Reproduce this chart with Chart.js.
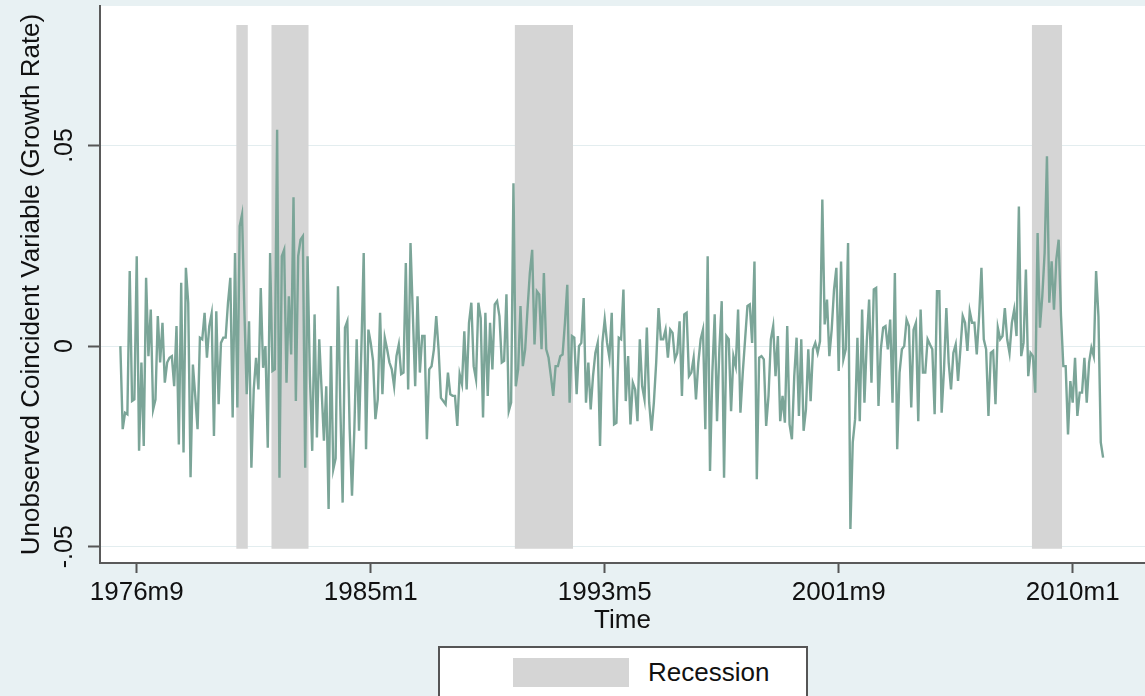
<!DOCTYPE html>
<html>
<head>
<meta charset="utf-8">
<title>Unobserved Coincident Variable (Growth Rate)</title>
<script src="https://cdn.jsdelivr.net/npm/chart.js@4.4.1/dist/chart.umd.min.js"></script>
<style>
  html, body { margin: 0; padding: 0; }
  body {
    width: 1145px; height: 696px; overflow: hidden; position: relative;
    background: #e8f1f3;
    font-family: 'Liberation Sans', Arial, Helvetica, sans-serif;
  }
  #chart { position: absolute; left: 0; top: 0; }
  .legend {
    position: absolute; left: 438px; top: 646px; width: 370px; height: 62px;
    background: #fff; border: 2px solid #555; box-sizing: border-box;
  }
  .legend .swatch { position: absolute; left: 73px; top: 10px; width: 116px; height: 29px; background: #d5d5d5; }
  .legend .label { position: absolute; left: 208px; top: 9px; font-size: 26px; line-height: 30px; color: #111; }
</style>
</head>
<body>
<canvas id="chart" width="1145" height="696"></canvas>
<div class="legend"><div class="swatch"></div><div class="label">Recession</div></div>
<script>
  // Stata monthly dates (%tm): 0 = 1960m1, so 193 = 1976m2
  const startMonth = 193;

  // monthly growth rate of the unobserved coincident variable, 1976m2 .. 2011m2
  const growth = [
    0, -.0207, -.0166, -.017, .0187, -.0137, -.0133, .0224, -.0261, -.0041, -.0249, .017, -.0025, .0091, -.0158, -.0133,
    .0075, -.0041, .0058, -.0091, -.0041, -.0029, -.0025, -.01, .005, -.0245, .0158, -.0265, .0195, .0108, -.0327, -.0046,
    -.0124, -.0207, .0021, .0017, .0083, -.0029, .005,
    .0081, -.0224, .0087, -.0145, .0008, .0021, .0021, .0108, .017, -.0178, .0232, -.0153, .0299, .0328, .0091, -.012,
    .0062, -.0303, -.0108, -.0029, -.0108, .0145, -.0054, 0, -.0253, .0232, -.0062, -.0058, .0539, -.0328, .0224, .024,
    -.0091, .0124, -.0021, .0371, -.0137, .0224, .0265,
    .0274, -.0303, .0224, -.0075, -.0261, .0079, -.0228, .0017, -.0108, -.0236, -.01, -.0406, 0, -.0307, -.028, .0149,
    -.0149, -.039, .0046, .0062, -.0207, -.0373, -.0207, .0017, -.0211, -.0008, .0232, -.0257, .0041, .0008, -.0037, -.0182,
    -.0133, .0083, -.012, .0021, -.0008, -.0041, -.0058, -.01, -.0025, .0004,
    -.007, -.0066, .0207, -.0108, .0257, .0079, -.01, .0124, -.0066, .0025, .0025, -.0232, -.0058, -.005, -.0008, .0075,
    -.0008, -.0129, -.0137, -.0145, -.0066, -.012, -.0124, -.0124, -.0199, -.007, -.0095, .0037, -.0108, .0058, .0108, -.005,
    -.0083, .0108, .007, -.0178, .0083, -.0124, .0058, -.0058, .0104,
    .0112, .0075, -.0041, -.0037, .0129, -.0162, -.0141, .0406, -.01, -.0058, .01, -.005, -.0008, .0091, .0182, .024,
    .0004, .0137, .0129, -.0008, .0182, -.0008, -.0029, -.0075, -.0124, -.005, -.005, -.0025, -.0021, .0058, .0153, -.0141,
    .0025, .0021, -.012, 0, .0008, .012, -.0141, -.0041, -.0158,
    -.0075, -.0017, .0008, -.0249, .0008, .0066, .0008, -.0029, .0083, -.0195, -.0191, .0021, .0017, .0141, -.0137, -.0025,
    -.0195, -.0091, -.0108, -.0187, .0017, -.01, -.0133, .0046, -.0141, -.0211, -.0141, -.0041, .0095, .0017, .0017, .0041,
    -.0029, .0041, .0033, -.0033, -.0017, .0062, -.0124, .0079,
    .0083, -.0075, -.0066, -.0029, -.0133, -.0041, .0017, .0041, -.0207, .0224, -.0311, -.0066, .0079, -.0187, -.0008, .0112,
    -.0328, .0025, .0017, -.0162, -.0025, -.005, .0091, -.0166, -.0066, .0017, .01, .0104, .0008, .0211, -.0332, -.0029,
    -.0025, -.0033, -.0199, -.0124, .0017, .005, -.0075, .0025, -.0187,
    -.0124, -.0191, .005, -.0195, -.0232, -.0075, .0021, -.0174, .0017, -.0211, -.0158, -.0008, -.0137, -.0008, .0008, -.0017,
    .0012, .0365, .0054, .0116, -.0025, .0041, .0141, .0195, -.0062, .0211, -.0033, -.0008, .0257, -.0456, -.024, -.0182,
    .0021, -.0187, .0091, -.0141, .0012, .0116, -.0091, .0141,
    .0145, -.0149, -.0008, .0046, .005, -.0008, .0066, -.0141, .0182, -.0257, -.0066, -.0008, 0, .0066, .005, -.0153,
    .0041, .0058, -.0187, .0091, -.0066, -.0066, .0017, .0004, -.0008, -.017, .0137, .0137, -.0166, -.0058, .0095, -.0041,
    -.0108, -.0017, .0004, -.0087, -.0008, .0075, .0058, -.0012, .0087, .0058, .0058, -.0021, .0075, .0195, .0017, -.0008,
    -.0174,
    -.0017, -.0012, -.0145, .0046, .0017, .0025, .0095, .0017, -.0017, .0058, .0091, .0025, .0348, -.0025, .0008, .0191,
    -.0075, -.0017, -.0025, -.0116, .0282, .0046, .0124, .0232, .0473, .0108, .0211, .0091, .0216, .0265, .0075, -.005,
    -.005, -.022, -.0087, -.0141, -.0029, -.0174, -.0116, -.0116, -.0029, -.0141, -.0041, -.0004, -.0025, .0187, .0075, -.024,
    -.0278
  ];

  // x ticks (Stata %tm values and their labels)
  const tickMonths = [200, 300, 400, 500, 600];
  const tickLabels = ['1976m9', '1985m1', '1993m5', '2001m9', '2010m1'];

  // y ticks
  const yTicks = [-0.05, 0, 0.05];
  const yTickLabels = ['-.05', '0', '.05'];

  // recession periods, first and last month (%tm)
  const recStart = [243, 258, 362, 583];
  const recEnd   = [247, 273, 386, 595];
  const recTop = 0.08, recBottom = -0.0505;

  const FONT = "'Liberation Sans', Arial, Helvetica, sans-serif";
  const LINE = '#7ba598';
  const SHADE = '#d5d5d5';
  const INK = '#111';

  // white plot region on the light blue graph region
  const plotBg = {
    id: 'plotBg',
    beforeDraw(chart){
      const { ctx, chartArea: a } = chart;
      ctx.save();
      ctx.fillStyle = '#fff';
      ctx.fillRect(a.left, a.top, a.right - a.left, a.bottom - a.top);
      ctx.restore();
    }
  };

  // Stata writes the y tick labels turned 90 degrees
  const yLabels = {
    id: 'yLabels',
    afterDraw(chart){
      const ctx = chart.ctx, ys = chart.scales.y;
      ctx.save();
      ctx.font = '25px ' + FONT;
      ctx.fillStyle = INK;
      ctx.textAlign = 'center';
      ctx.textBaseline = 'alphabetic';
      yTicks.forEach((v, i) => {
        ctx.save();
        ctx.translate(72, ys.getPixelForValue(v));
        ctx.rotate(-Math.PI / 2);
        ctx.fillText(yTickLabels[i], 0, 0);
        ctx.restore();
      });
      ctx.restore();
    }
  };

  const series = growth.map((v, i) => ({ x: startMonth + i, y: v }));

  const recessionSets = recStart.map((s, i) => ({
    type: 'line',
    data: [{ x: s - 0.5, y: recTop }, { x: recEnd[i] + 0.5, y: recTop }],
    borderColor: 'rgba(0,0,0,0)',
    borderWidth: 0,
    backgroundColor: SHADE,
    pointRadius: 0,
    fill: { value: recBottom },
    order: 2
  }));

  new Chart(document.getElementById('chart').getContext('2d'), {
    type: 'line',
    data: {
      datasets: [{
        label: 'Growth rate',
        data: series,
        borderColor: LINE,
        borderWidth: 2.4,
        pointRadius: 0,
        tension: 0,
        fill: false,
        order: 1
      }].concat(recessionSets)
    },
    options: {
      responsive: false,
      animation: false,
      events: [],
      layout: { padding: { top: 6, left: 0, right: 0, bottom: 0 } },
      plugins: {
        legend: { display: false },
        tooltip: { enabled: false }
      },
      scales: {
        x: {
          type: 'linear',
          min: 184.3,
          max: 630.9,
          afterFit: s => { s.height = 133; },
          afterBuildTicks: s => { s.ticks = tickMonths.map(v => ({ value: v })); },
          ticks: {
            callback: (v, i) => tickLabels[i],
            font: { size: 26, family: FONT },
            color: INK,
            padding: 4,
            autoSkip: false,
            minRotation: 0,
            maxRotation: 0
          },
          grid: { drawOnChartArea: false, drawTicks: true, tickLength: 10, tickColor: '#555', tickWidth: 2 },
          border: { color: '#5a5a5a', width: 2 },
          title: {
            display: true, text: 'Time', color: INK,
            font: { size: 26, family: FONT },
            padding: { top: 0, bottom: 60 }
          }
        },
        y: {
          min: -0.05405,
          max: 0.08475,
          afterFit: s => { s.width = 100; },
          afterBuildTicks: s => { s.ticks = yTicks.map(v => ({ value: v })); },
          ticks: { display: false },
          grid: { color: '#e3edef', lineWidth: 1, tickLength: 12, tickColor: '#555', tickWidth: 2 },
          border: { color: '#5a5a5a', width: 2 },
          title: {
            display: true, text: 'Unobserved Coincident Variable (Growth Rate)', color: INK,
            font: { size: 26, family: FONT },
            padding: { top: 16, bottom: 0 }
          }
        }
      }
    },
    plugins: [plotBg, yLabels]
  });
</script>
</body>
</html>
